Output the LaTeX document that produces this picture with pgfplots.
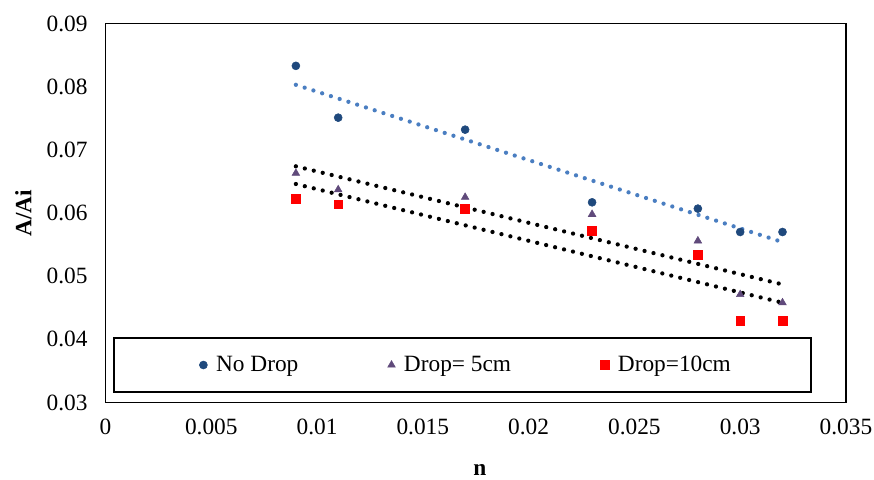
\documentclass[border=0pt]{standalone}
\usepackage{fontspec}
\setmainfont{Liberation Serif}
\usepackage{pgfplots}
\pgfplotsset{compat=1.18}

\definecolor{nodrop}{RGB}{31,73,125}
\definecolor{drop5}{RGB}{96,74,123}
\definecolor{trendblue}{RGB}{74,126,193}

\begin{document}
\begin{tikzpicture}
\begin{axis}[
    scale only axis,
    width=555.375pt, height=284.25pt,
    xmin=0, xmax=0.035, ymin=0.03, ymax=0.09,
    xtick={0,0.005,0.01,0.015,0.02,0.025,0.03,0.035},
    xticklabels={0,0.005,0.01,0.015,0.02,0.025,0.03,0.035},
    ytick={0.03,0.04,0.05,0.06,0.07,0.08,0.09},
    yticklabels={0.03,0.04,0.05,0.06,0.07,0.08,0.09},
    scaled ticks=false,
    major tick length=0pt,
    axis line style={line width=1pt},
    tick label style={font=\fontsize{17.5}{21}\selectfont},
    xticklabel style={yshift=-9pt},
    yticklabel style={xshift=-10pt},
    /pgf/number format/assume math mode=true,
    xlabel={n}, ylabel={A/Ai},
    label style={font=\fontsize{17.5}{21}\selectfont\bfseries},
    xlabel style={at={(axis description cs:0.5057,0)}, anchor=base, inner sep=0pt, yshift=-54.8pt},
    ylabel style={at={(axis description cs:-0.0999,0.5)}, anchor=base},
    legend columns=3,
    legend style={draw=none, fill=none, at={(rel axis cs:0.4875,0.099)}, anchor=center,
        font=\fontsize{17.5}{21}\selectfont,
        /tikz/every odd column/.append style={column sep=4.5pt},
        /tikz/every even column/.append style={column sep=65pt}},
    legend image code/.code={\draw[#1] plot coordinates {(0pt,0pt)};},
]
% legend frame
\draw[line width=1.5pt, fill=white] (rel axis cs:0.0115,0.0269) rectangle (rel axis cs:0.9523,0.1702);

% data
\addplot[only marks, mark=*, mark size=3pt, color=nodrop] coordinates {
    (0.009,0.0833) (0.011,0.0751) (0.017,0.0732) (0.023,0.0617)
    (0.028,0.0607) (0.030,0.0570) (0.032,0.0570)};
\addlegendentry{No Drop}
\addplot[only marks, mark=triangle*, mark size=3.3pt, color=drop5] coordinates {
    (0.009,0.0663) (0.011,0.0637) (0.017,0.0625) (0.023,0.0598)
    (0.028,0.0556) (0.030,0.0471) (0.032,0.0458)};
\addlegendentry{Drop= 5cm}
\addplot[only marks, mark=square*, mark size=3.3pt, color=red] coordinates {
    (0.009,0.0622) (0.011,0.0614) (0.017,0.0607) (0.023,0.0572)
    (0.028,0.0534) (0.030,0.0429) (0.032,0.0429)};
\addlegendentry{Drop=10cm}

% linear trendlines
\addplot[forget plot, color=trendblue, line width=3.2pt, line cap=round, dash pattern=on 0pt off 6.9pt]
    coordinates {(0.009,0.0803) (0.032,0.0554)};
\addplot[forget plot, color=black, line width=3.2pt, line cap=round, dash pattern=on 0pt off 6.9pt]
    coordinates {(0.009,0.0674) (0.032,0.0487)};
\addplot[forget plot, color=black, line width=3.2pt, line cap=round, dash pattern=on 0pt off 6.9pt]
    coordinates {(0.009,0.0646) (0.032,0.0458)};
\end{axis}
\pgfresetboundingbox
\useasboundingbox (-79.1pt,-57.4pt) rectangle (576.4pt,301.9pt);
\end{tikzpicture}
\end{document}
